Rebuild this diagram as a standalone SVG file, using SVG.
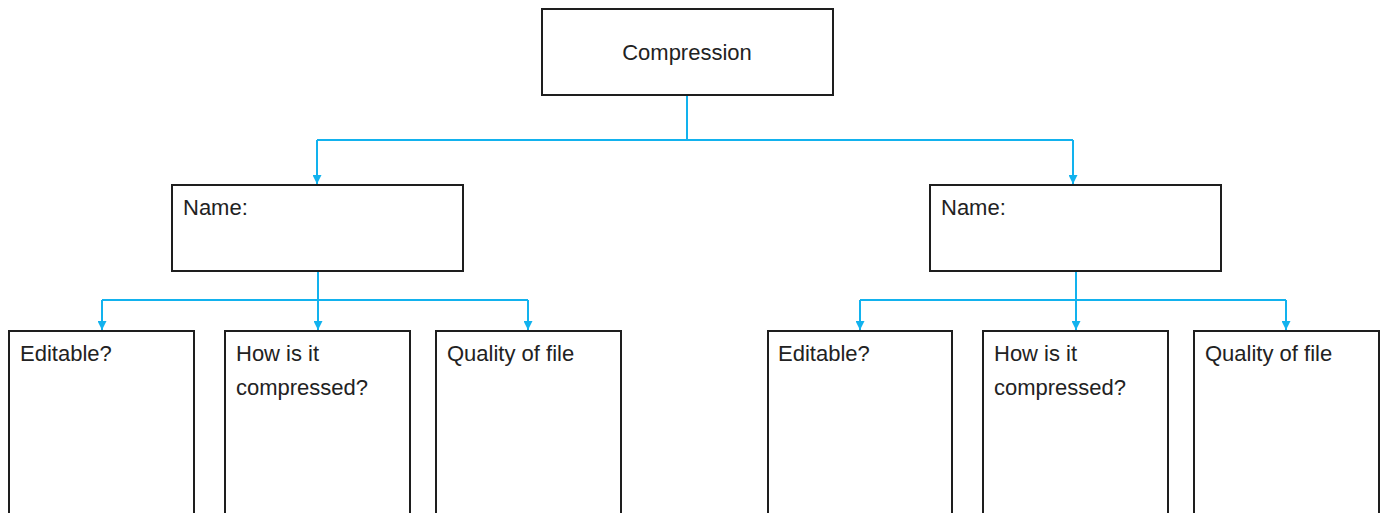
<svg xmlns="http://www.w3.org/2000/svg" width="1387" height="513" viewBox="0 0 1387 513">
  <style>
    .box { fill: #ffffff; stroke: #1e1e1e; stroke-width: 2; }
    .lbl { font-family: "Liberation Sans", Arial, sans-serif; font-size: 22px; fill: #222222; }
    .link { fill: none; stroke: #12b2ee; stroke-width: 2; }
  </style>
  <defs>
    <marker id="arrow" viewBox="0 0 10 10" refX="10" refY="5" markerWidth="4.5" markerHeight="4.5" orient="auto">
      <path d="M0,0 L10,5 L0,10 Z" fill="#12b2ee"/>
    </marker>
  </defs>
  <rect width="1387" height="513" fill="#ffffff"/>

  <!-- connectors -->
  <g id="connectors">
    <path class="link" d="M687,96 V140"/>
    <path class="link" d="M317,140 H1073"/>
    <path class="link" d="M317,140 V184" marker-end="url(#arrow)"/>
    <path class="link" d="M1073,140 V184" marker-end="url(#arrow)"/>

    <path class="link" d="M318,272 V330" marker-end="url(#arrow)"/>
    <path class="link" d="M102,300 H528"/>
    <path class="link" d="M102,300 V330" marker-end="url(#arrow)"/>
    <path class="link" d="M528,300 V330" marker-end="url(#arrow)"/>

    <path class="link" d="M1076,272 V330" marker-end="url(#arrow)"/>
    <path class="link" d="M860,300 H1286"/>
    <path class="link" d="M860,300 V330" marker-end="url(#arrow)"/>
    <path class="link" d="M1286,300 V330" marker-end="url(#arrow)"/>
  </g>

  <!-- root -->
  <g id="compression">
    <rect class="box" x="542" y="9" width="291" height="86"/>
    <text class="lbl" x="687" y="60" text-anchor="middle">Compression</text>
  </g>

  <!-- left branch -->
  <g id="name-left">
    <rect class="box" x="172" y="185" width="291" height="86"/>
    <text class="lbl" x="183" y="215">Name:</text>
  </g>
  <g id="editable-left">
    <rect class="box" x="9" y="331" width="185" height="200"/>
    <text class="lbl" x="20" y="361">Editable?</text>
  </g>
  <g id="how-left">
    <rect class="box" x="225" y="331" width="185" height="200"/>
    <text class="lbl" x="236" y="361">How is it</text>
    <text class="lbl" x="236" y="395">compressed?</text>
  </g>
  <g id="quality-left">
    <rect class="box" x="436" y="331" width="185" height="200"/>
    <text class="lbl" x="447" y="361">Quality of file</text>
  </g>

  <!-- right branch -->
  <g id="name-right">
    <rect class="box" x="930" y="185" width="291" height="86"/>
    <text class="lbl" x="941" y="215">Name:</text>
  </g>
  <g id="editable-right">
    <rect class="box" x="768" y="331" width="184" height="200"/>
    <text class="lbl" x="778" y="361">Editable?</text>
  </g>
  <g id="how-right">
    <rect class="box" x="983" y="331" width="185" height="200"/>
    <text class="lbl" x="994" y="361">How is it</text>
    <text class="lbl" x="994" y="395">compressed?</text>
  </g>
  <g id="quality-right">
    <rect class="box" x="1194" y="331" width="185" height="200"/>
    <text class="lbl" x="1205" y="361">Quality of file</text>
  </g>
</svg>
